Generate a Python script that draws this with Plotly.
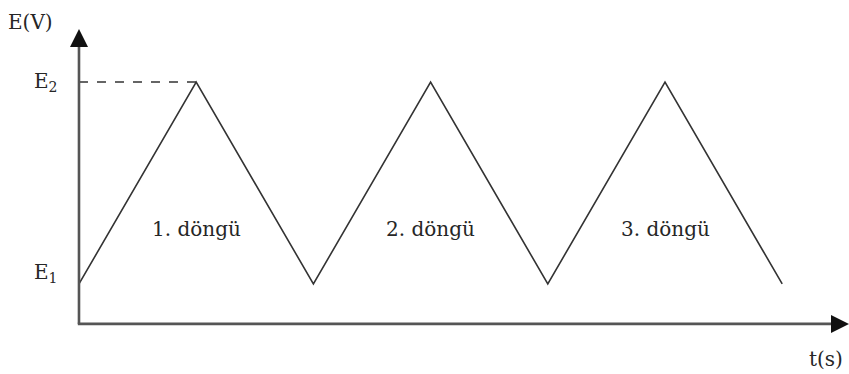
import plotly.graph_objects as go

# Triangular potential sweep: time in half-cycle units, potential levels E1=1, E2=2
t_points = [0, 1, 2, 3, 4, 5, 6]
e_points = [1, 2, 1, 2, 1, 2, 1]
cycle_labels = ["1. döngü", "2. döngü", "3. döngü"]
cycle_centers = [1, 3, 5]
e_ticks = [1, 2]
e_tick_labels = ["E<sub>1</sub>", "E<sub>2</sub>"]
e_tick_shift = [11, 0]
x_title = "t(s)"
y_title = "E(V)"

W, H = 849, 374
x_range = [-0.674, 6.570]
y_range = [0.554, 2.406]
x_axis_at = 0.802      # y-value where the time axis lies
y_axis_top = 2.262
x_axis_end = 6.570

FONT = "DejaVu Serif, Liberation Serif, serif"
TEXT_COLOR = "#262626"
AXIS_COLOR = "#555555"
HEAD_COLOR = "#111111"

fig = go.Figure()

# Potential waveform
fig.add_trace(go.Scatter(
    x=t_points, y=e_points, mode="lines",
    line=dict(color="#333333", width=1.6),
    hoverinfo="skip", showlegend=False,
))

# Dashed guide from the E2 level to the first peak
peak_t = t_points[e_points.index(max(e_points))]
fig.add_shape(type="line", x0=0, x1=peak_t, y0=e_ticks[1], y1=e_ticks[1],
              line=dict(color="#333333", width=1.4, dash="dash"))

# Axis shafts (grey)
fig.add_shape(type="line", x0=0, x1=0, y0=x_axis_at, y1=y_axis_top - 0.03,
              line=dict(color=AXIS_COLOR, width=2.6))
fig.add_shape(type="line", x0=-0.01, x1=x_axis_end - 0.05, y0=x_axis_at, y1=x_axis_at,
              line=dict(color=AXIS_COLOR, width=2.6))

annotations = []
# Black arrowheads at the axis ends (ax/ay are pixel offsets back along each axis)
head = dict(xref="x", yref="y", text="", showarrow=True, arrowhead=2, arrowsize=1.5,
            arrowwidth=2.4, arrowcolor=HEAD_COLOR, standoff=0, startstandoff=0)
annotations.append(dict(head, x=0, y=y_axis_top, ax=0, ay=14))
annotations.append(dict(head, x=x_axis_end, y=x_axis_at, ax=-14, ay=0))

# Level labels
for val, lab, dy in zip(e_ticks, e_tick_labels, e_tick_shift):
    annotations.append(dict(x=-0.16, y=val, xref="x", yref="y", text=lab,
                            showarrow=False, xanchor="right", yanchor="middle", yshift=dy,
                            font=dict(family=FONT, size=20, color=TEXT_COLOR)))

# Axis titles
annotations.append(dict(x=6 / W, y=1 - 22 / H, xref="paper", yref="paper", text=y_title,
                        showarrow=False, xanchor="left", yanchor="middle",
                        font=dict(family=FONT, size=20, color=TEXT_COLOR)))
annotations.append(dict(x=x_axis_end, y=x_axis_at, xref="x", yref="y", text=x_title,
                        showarrow=False, xanchor="right", yanchor="top", yshift=-21, xshift=-4,
                        font=dict(family=FONT, size=20, color=TEXT_COLOR)))

# Cycle labels
for c, lab in zip(cycle_centers, cycle_labels):
    annotations.append(dict(x=c, y=1.27, xref="x", yref="y", text=lab,
                            showarrow=False, xanchor="center", yanchor="middle",
                            font=dict(family=FONT, size=20, color=TEXT_COLOR)))

fig.update_layout(
    width=W, height=H,
    margin=dict(l=0, r=0, t=0, b=0),
    paper_bgcolor="white", plot_bgcolor="white",
    xaxis=dict(range=x_range, visible=False, fixedrange=True),
    yaxis=dict(range=y_range, visible=False, fixedrange=True),
    annotations=annotations,
    showlegend=False,
)

fig.write_html("out.html", config={"displayModeBar": False})
